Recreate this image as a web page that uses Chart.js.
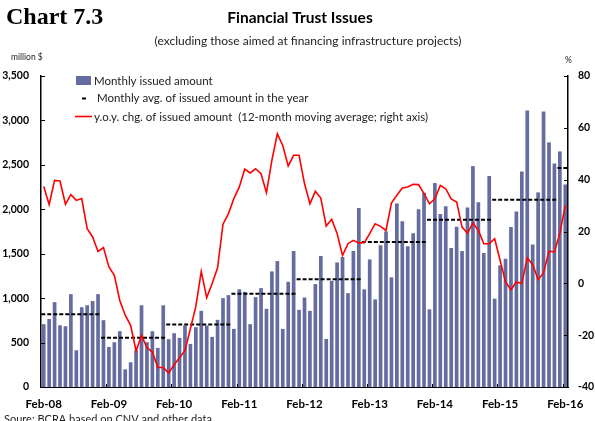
<!DOCTYPE html>
<html>
<head>
<meta charset="utf-8">
<script src="https://cdn.jsdelivr.net/npm/chart.js@4.4.1/dist/chart.umd.min.js"></script>
<style>
  html, body { margin: 0; padding: 0; background: #fff; }
  #wrap { position: relative; width: 595px; height: 421px; }
</style>
</head>
<body>
<div id="wrap"><canvas id="myChart" width="595" height="421"></canvas></div>
<script>
// x axis labels, one every 12 months starting at Feb-08
const xTickLabels = ['Feb-08', 'Feb-09', 'Feb-10', 'Feb-11', 'Feb-12', 'Feb-13', 'Feb-14', 'Feb-15', 'Feb-16'];

// monthly issued amount, million $ (Feb-08 .. Feb-16)
const issued = [
    707, 765, 955, 695, 684, 1045, 413, 898, 920, 967, 1045,
    752, 451, 504, 628, 199, 278, 413, 920, 504, 628, 440, 920,
    538, 605, 553, 692, 485, 673, 857, 692, 564, 756, 1000, 1034,
    654, 1100, 1070, 707, 1011, 1113, 880, 1301, 1417, 654, 1184, 1530,
    868, 1007, 857, 1158, 1474, 541, 1195, 1402, 1462, 1056, 1530, 2015,
    1099, 1436, 986, 1594, 1751, 1234, 2066, 1864, 1583, 1729, 1999, 2187,
    874, 2295, 1946, 2033, 1564, 1804, 1530, 2021, 2486, 2078, 1508, 2374,
    994, 1369, 1444, 1800, 1976, 2426, 3113, 1605, 2190, 3101, 2753, 2516,
    2651, 2280
];

// y.o.y. change, 12-month moving average, % (right axis)
const yoyChange = [
    37.4, 30.4, 39.7, 39.5, 30.5, 34.2, 32.0, 32.7, 21.1, 17.9, 12.3,
    13.8, 6.3, 3.1, -6.6, -12.3, -16.2, -26.1, -20.1, -24.8, -26.5, -32.5, -32.5,
    -34.6, -31.4, -28.7, -25.9, -17.5, -8.9, 4.6, -5.5, -0.1, 6.0, 22.8, 26.9,
    32.7, 37.2, 44.1, 42.6, 44.2, 42.3, 35.0, 47.5, 57.7, 53.2, 45.3, 49.4,
    49.4, 38.5, 30.7, 35.5, 32.9, 22.1, 24.7, 19.2, 10.8, 15.3, 16.6, 15.6,
    15.7, 19.2, 23.0, 22.0, 20.4, 31.0, 34.0, 36.8, 37.2, 38.2, 38.1, 34.6,
    30.7, 32.6, 37.8, 36.5, 32.6, 31.4, 21.7, 19.4, 23.3, 20.4, 15.3, 15.3,
    17.2, 8.9, 0.5, -2.5, 0.5, -0.1, 9.8, 7.3, 1.4, 4.0, 12.4, 12.1,
    19.2, 30.1
];

// monthly average of issued amount in each year
const avgYears = [2008, 2009, 2010, 2011, 2012, 2013, 2014, 2015, 2016];
const avgIssued = [818, 555, 704, 1049, 1212, 1632, 1883, 2108, 2464];

const leftTicks = [0, 500, 1000, 1500, 2000, 2500, 3000, 3500];
const rightTicks = [-40, -20, 0, 20, 40, 60, 80];

const lastIdx = issued.length - 1;

// one dashed segment per year, broken by null points
const avgPoints = [];
avgYears.forEach((yr, k) => {
    const first = Math.max(0, (yr - 2008) * 12 - 1);
    const last = Math.min(lastIdx, (yr - 2008) * 12 + 10);
    avgPoints.push({ x: first - 0.45, y: avgIssued[k] });
    avgPoints.push({ x: last + 0.45, y: avgIssued[k] });
    avgPoints.push({ x: last + 0.5, y: null });
});

const FONT = 'Lato';

const decor = {
    id: 'decor',
    afterDraw(chart) {
        const ctx = chart.ctx;
        const { left, right, bottom } = chart.chartArea;
        const sy = chart.scales.y, sy2 = chart.scales.y2, sx = chart.scales.x;
        ctx.save();
        // inward tick marks
        ctx.strokeStyle = '#000';
        ctx.lineWidth = 1;
        ctx.beginPath();
        leftTicks.forEach(v => {
            const p = Math.round(sy.getPixelForValue(v)) + 0.5;
            ctx.moveTo(left, p); ctx.lineTo(left + 4, p);
        });
        rightTicks.forEach(v => {
            const p = Math.round(sy2.getPixelForValue(v)) + 0.5;
            ctx.moveTo(right - 4, p); ctx.lineTo(right, p);
        });
        for (let k = 1; k < xTickLabels.length; k++) {
            const p = Math.round(sx.getPixelForValue(k * 12 - 0.5)) + 0.5;
            ctx.moveTo(p, bottom); ctx.lineTo(p, bottom - 3);
        }
        ctx.stroke();

        // legend inside the plot
        ctx.fillStyle = '#656da0';
        ctx.fillRect(76, 76, 15, 9);
        ctx.strokeStyle = '#000';
        ctx.lineWidth = 2;
        ctx.beginPath(); ctx.moveTo(82, 98.5); ctx.lineTo(86, 98.5); ctx.stroke();
        ctx.strokeStyle = '#ff0000';
        ctx.lineWidth = 1.6;
        ctx.beginPath(); ctx.moveTo(75, 116.5); ctx.lineTo(92, 116.5); ctx.stroke();

        ctx.fillStyle = '#222';
        ctx.font = '11.5px ' + FONT;
        ctx.textBaseline = 'middle';
        ctx.textAlign = 'left';
        ctx.fillText('Monthly issued amount', 94, 81);
        ctx.fillText('Monthly avg. of issued amount in the year', 97, 98.5);
        ctx.fillText('y.o.y. chg. of issued amount  (12-month moving average; right axis)', 94, 117);

        // headings and notes
        ctx.fillStyle = '#000';
        ctx.font = 'bold 24px "Liberation Serif"';
        ctx.textBaseline = 'alphabetic';
        ctx.fillText('Chart 7.3', 6, 24);
        ctx.textBaseline = 'middle';
        ctx.textAlign = 'center';
        ctx.font = 'bold 15.5px ' + FONT;
        ctx.fillText('Financial Trust Issues', 300, 18);
        ctx.font = '12px ' + FONT;
        ctx.fillStyle = '#222';
        ctx.fillText('(excluding those aimed at financing infrastructure projects)', 308, 41);
        ctx.textAlign = 'left';
        ctx.font = '8.5px ' + FONT;
        ctx.fillText('million $', 11, 57);
        ctx.fillText('%', 565, 60);
        ctx.font = '11px ' + FONT;
        ctx.fillText('Soure: BCRA based on CNV and other data.', 4, 419);
        ctx.restore();
    }
};

const config = {
    type: 'bar',
    data: {
        datasets: [{
            type: 'line',
            label: 'y.o.y. chg. of issued amount (12-month moving average; right axis)',
            data: yoyChange.map((v, i) => ({ x: i, y: v })),
            yAxisID: 'y2',
            borderColor: '#ff0000',
            borderWidth: 1.6,
            pointRadius: 0,
            tension: 0,
            order: 1
        }, {
            type: 'line',
            label: 'Monthly avg. of issued amount in the year',
            data: avgPoints,
            yAxisID: 'y',
            borderColor: '#000',
            borderWidth: 2,
            borderDash: [4, 2],
            pointRadius: 0,
            spanGaps: false,
            order: 2
        }, {
            type: 'bar',
            label: 'Monthly issued amount',
            data: issued.map((v, i) => ({ x: i, y: v })),
            yAxisID: 'y',
            backgroundColor: '#656da0',
            barPercentage: 0.85,
            categoryPercentage: 0.8,
            order: 3
        }]
    },
    options: {
        responsive: false,
        animation: false,
        layout: { padding: { top: 76, left: 0, right: 0, bottom: 0 } },
        plugins: {
            legend: { display: false },
            tooltip: { enabled: false }
        },
        scales: {
            x: {
                type: 'linear',
                offset: false,
                min: -0.5,
                max: lastIdx + 0.5,
                grid: { display: false, drawTicks: false, offset: false },
                border: { color: '#000', width: 1 },
                afterBuildTicks: s => { s.ticks = xTickLabels.map((l, k) => ({ value: k * 12 })); },
                afterFit: s => { s.height = 34; },
                ticks: {
                    autoSkip: false,
                    maxRotation: 0,
                    padding: 10,
                    color: '#000',
                    font: { family: FONT, size: 11.5, weight: 'bold' },
                    callback: v => xTickLabels[Math.round(v / 12)]
                }
            },
            y: {
                position: 'left',
                min: 0,
                max: 3500,
                grid: { display: false, drawTicks: false },
                border: { color: '#000', width: 1.5 },
                afterBuildTicks: s => { s.ticks = leftTicks.map(v => ({ value: v })); },
                afterFit: s => { s.width = 41; },
                ticks: {
                    padding: 12,
                    color: '#000',
                    font: { family: FONT, size: 10.5, weight: 'bold' },
                    callback: v => v.toLocaleString('en-US')
                }
            },
            y2: {
                position: 'right',
                min: -40,
                max: 80,
                grid: { display: false, drawTicks: false },
                border: { color: '#000', width: 1.5 },
                afterBuildTicks: s => { s.ticks = rightTicks.map(v => ({ value: v })); },
                afterFit: s => { s.width = 27; },
                ticks: {
                    padding: 10,
                    color: '#000',
                    font: { family: FONT, size: 10.5, weight: 'bold' }
                }
            }
        }
    },
    plugins: [decor]
};

const chart = new Chart(document.getElementById('myChart'), config);
</script>
</body>
</html>
